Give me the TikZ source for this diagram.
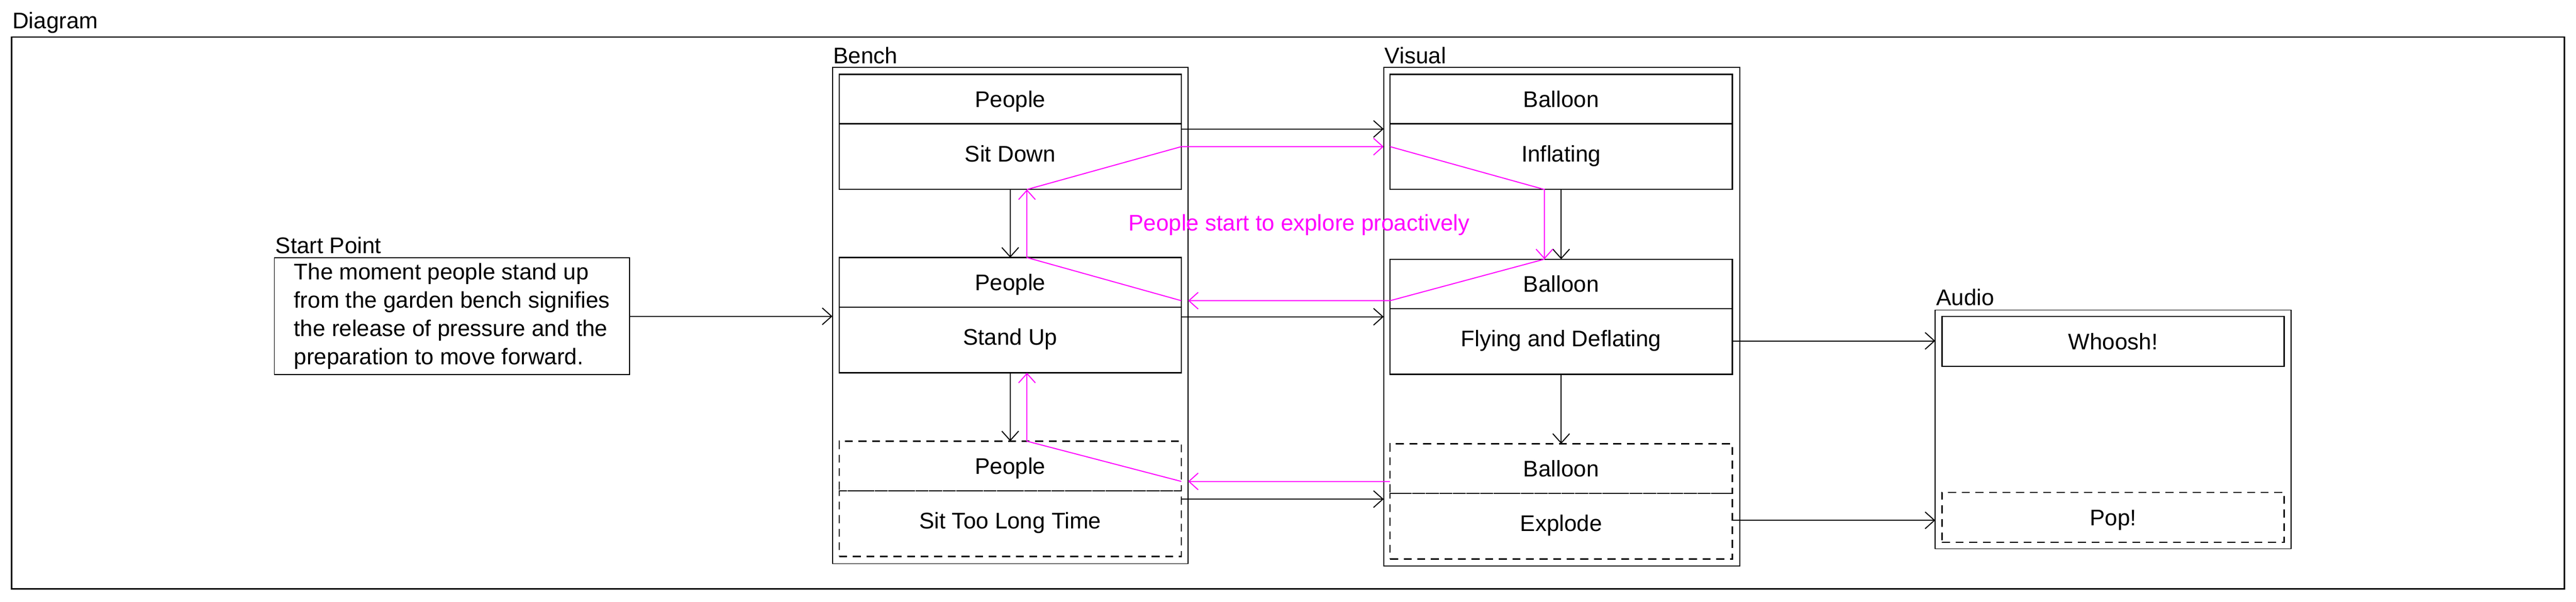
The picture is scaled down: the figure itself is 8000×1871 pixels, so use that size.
\documentclass[tikz,border=0pt]{standalone}
\usepackage{fontspec}
\setmainfont{Liberation Sans}
\usetikzlibrary{arrows.meta}
\definecolor{explorecolor}{RGB}{255,0,255}

\begin{document}
\begin{tikzpicture}[x=0.01cm, y=-0.01cm,
    font=\fontsize{20}{25}\selectfont,
    tag/.style={anchor=base west, inner sep=0pt},
    group/.style={draw, rectangle, line width=0.8pt, inner sep=0pt, outer sep=0pt, anchor=north west},
    part/.style={group, line width=1.1pt, minimum width=10.62cm},
    head/.style={part, minimum height=1.54cm, text height=0.5cm, text depth=0cm},
    body/.style={part, minimum height=2.04cm, text height=0.5cm, text depth=0.18cm},
    maybe/.style={dash pattern=on 7pt off 5pt},
    tip/.style={-{Straight Barb[length=0.29cm,width=0.52cm]}},
    flow/.style={line width=0.9pt, tip},
    explore/.style={explorecolor, line width=0.9pt},
  ]
  \useasboundingbox (0,0) rectangle (8000,1871);

  % frame and start
  \node[tag] (diagramlabel) at (38,88) {Diagram};
  \node[group, line width=1.1pt, minimum width=79.23cm, minimum height=17.15cm] (diagram) at (36,115) {};
  \node[tag] (startlabel) at (855,788) {Start Point};
  \node[group, minimum width=11.03cm, minimum height=3.63cm, align=left] (start) at (852,802)
    {The moment people stand up\\from the garden bench signifies\\the release of pressure and the\\preparation to move forward.};

  % bench
  \node[tag] (benchlabel) at (2587,198) {Bench};
  \node[group, minimum width=11.04cm, minimum height=15.42cm] (bench) at (2585,210) {};
  \node[head] (sdh) at (2606,231) {People};
  \node[body] (sdb) at (sdh.south west) {Sit Down};
  \node[head] (suh) at (2606,801) {People};
  \node[body] (sub) at (suh.south west) {Stand Up};
  \node[head, maybe] (slh) at (2606,1372) {People};
  \node[body, maybe] (slb) at (slh.south west) {Sit Too Long Time};

  % visual
  \node[tag] (visuallabel) at (4300,198) {Visual};
  \node[group, minimum width=11.05cm, minimum height=15.5cm] (visual) at (4297,209) {};
  \node[head] (inh) at (4317,231) {Balloon};
  \node[body] (inb) at (inh.south west) {Inflating};
  \node[head] (flh) at (4317,806) {Balloon};
  \node[body] (flb) at (flh.south west) {Flying and Deflating};
  \node[head, maybe] (exh) at (4317,1380) {Balloon};
  \node[body, maybe] (exb) at (exh.south west) {Explode};

  % audio
  \node[tag] (audiolabel) at (6013,950) {Audio};
  \node[group, minimum width=11.05cm, minimum height=7.42cm] (audio) at (6010,964) {};
  \node[head, minimum height=1.55cm] (whoosh) at (6031,984) {Whoosh!};
  \node[head, maybe, minimum height=1.55cm] (pop) at (6031,1531) {Pop!};

  \node[tag, explorecolor] (explorelabel) at (3504,717) {People start to explore proactively};

  \begin{scope}[flow]
    \draw (start.east) -- (start.east -| bench.west);
    \draw (sdb.east |- 0,401) -- (visual.west |- 0,401);
    \draw (sub.east |- 0,985) -- (visual.west |- 0,985);
    \draw (slb.east |- 0,1552) -- (visual.west |- 0,1552);
    \draw (flb.east |- 0,1060) -- (audio.west |- 0,1060);
    \draw (exb.east |- 0,1618) -- (audio.west |- 0,1618);
    \draw (sdb.south) -- (suh.north);
    \draw (sub.south) -- (slh.north);
    \draw (inb.south) -- (flh.north);
    \draw (flb.south) -- (exh.north);
  \end{scope}

  \begin{scope}[explore]
    \draw[tip] ([xshift=0.52cm]suh.north) -- ([xshift=0.52cm]sdb.south);
    \draw[tip] ([xshift=0.52cm]sdb.south) -- (sdb.east |- 0,456) -- (visual.west |- 0,456);
    \draw[tip] (inb.west |- 0,456) -- ([xshift=-0.52cm]inb.south) -- ([xshift=-0.52cm]flh.north);
    \draw[tip] ([xshift=-0.52cm]flh.north) -- (flh.west |- 0,935) -- (bench.east |- 0,935);
    \draw (suh.east |- 0,935) -- ([xshift=0.52cm]suh.north);
    \draw[tip] ([xshift=0.52cm]slh.north) -- ([xshift=0.52cm]sub.south);
    \draw[tip] (exh.west |- 0,1497) -- (bench.east |- 0,1497);
    \draw (slh.east |- 0,1497) -- ([xshift=0.52cm]slh.north);
  \end{scope}
\end{tikzpicture}
\end{document}
